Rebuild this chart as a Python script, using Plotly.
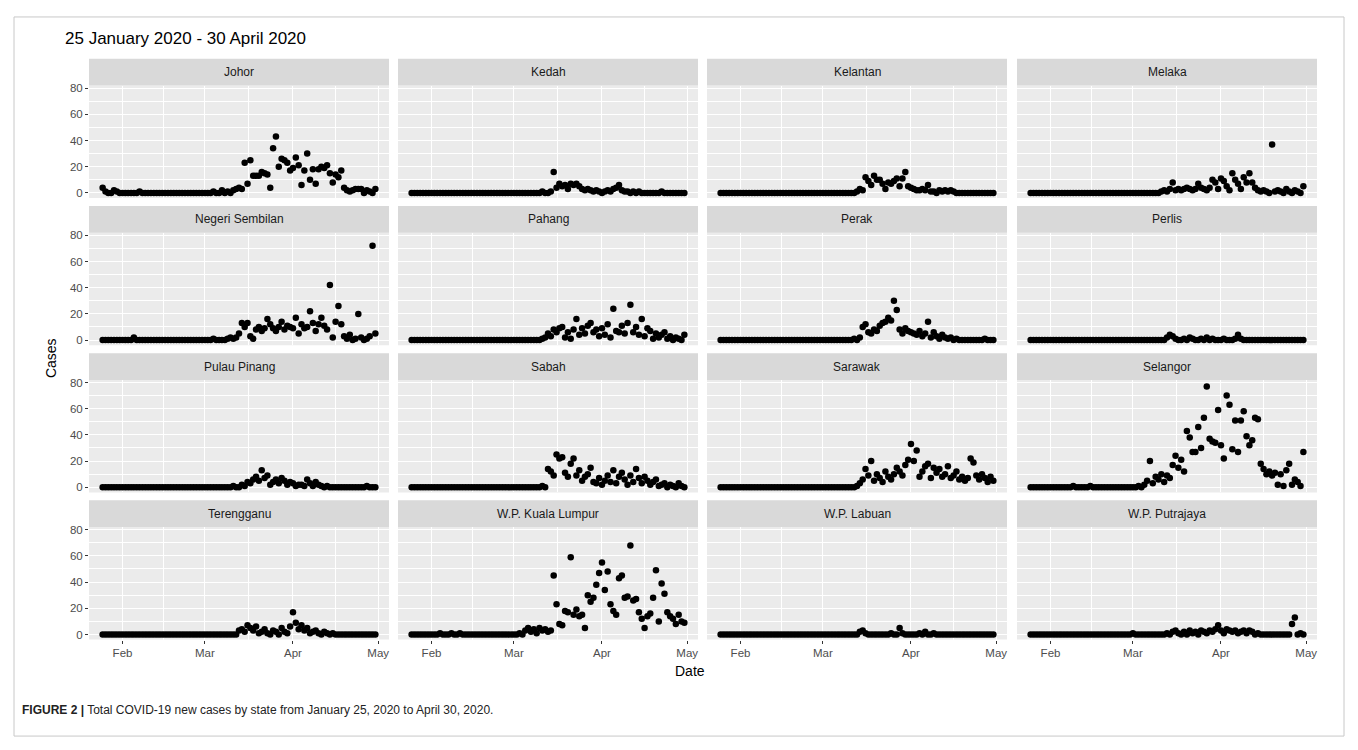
import pandas as pd
import plotly.graph_objects as go

# ---------------- data (daily new cases, 25 Jan 2020 - 30 Apr 2020) ----------------
dates = pd.date_range("2020-01-25", "2020-04-30", freq="D")

states = ["Johor", "Kedah", "Kelantan", "Melaka",
          "Negeri Sembilan", "Pahang", "Perak", "Perlis",
          "Pulau Pinang", "Sabah", "Sarawak", "Selangor",
          "Terengganu", "W.P. Kuala Lumpur", "W.P. Labuan", "W.P. Putrajaya"]

johor = ([4, 1, 0, 0, 2, 1, 0] +
         [0, 0, 0, 0, 0, 0, 1, 0, 0, 0, 0, 0, 0, 0, 0, 0, 0, 0, 0, 0, 0, 0, 0, 0, 0, 0, 0, 0, 0] +
         [0, 0, 0, 1, 0, 0, 2, 0, 1, 0, 2, 3, 4, 3, 23, 7, 25, 13, 13, 13, 16, 15, 14, 4, 34, 43, 20, 26, 25, 23, 17] +
         [19, 27, 21, 6, 17, 30, 10, 18, 7, 18, 20, 19, 21, 15, 8, 14, 12, 17, 4, 2, 1, 2, 3, 3, 3, 0, 2, 1, 0, 3])
kedah = ([0, 0, 0, 0, 0, 0, 0] +
         [0] * 29 +
         [0, 0, 0, 0, 0, 0, 0, 0, 0, 0, 1, 0, 0, 1, 16, 4, 7, 5, 6, 3, 7, 6, 7, 5, 3, 2, 3, 2, 1, 2, 1] +
         [0, 1, 2, 1, 3, 4, 6, 2, 1, 1, 0, 1, 0, 1, 0, 0, 0, 0, 0, 0, 0, 1, 0, 0, 0, 0, 0, 0, 0, 0])
kelantan = ([0, 0, 0, 0, 0, 0, 0] +
            [0] * 29 +
            [0, 0, 0, 0, 0, 0, 0, 0, 0, 0, 0, 0, 1, 3, 2, 12, 9, 6, 13, 10, 10, 7, 3, 8, 7, 9, 11, 5, 11, 16, 5] +
            [4, 3, 2, 2, 3, 2, 6, 1, 1, 0, 2, 1, 2, 1, 2, 1, 0, 0, 0, 0, 0, 0, 0, 0, 0, 0, 0, 0, 0, 0])
melaka = ([0, 0, 0, 0, 0, 0, 0] +
          [0] * 29 +
          [0, 0, 0, 0, 0, 0, 0, 0, 0, 0, 1, 2, 1, 3, 8, 2, 3, 2, 3, 4, 3, 2, 3, 7, 4, 3, 2, 4, 10, 8, 3] +
          [11, 9, 5, 2, 15, 10, 7, 3, 12, 8, 15, 8, 4, 2, 1, 2, 1, 0, 37, 1, 2, 1, 0, 3, 1, 0, 2, 1, 0, 5])
negeri_sembilan = ([0, 0, 0, 0, 0, 0, 0] +
                   [0, 0, 0, 0, 2, 0, 0, 0, 0, 0, 0, 0, 0, 0, 0, 0, 0, 0, 0, 0, 0, 0, 0, 0, 0, 0, 0, 0, 0] +
                   [0, 0, 0, 1, 0, 0, 0, 0, 1, 2, 1, 2, 5, 13, 10, 13, 3, 1, 8, 10, 7, 9, 16, 12, 9, 7, 10, 14, 8, 11, 10] +
                   [9, 17, 5, 12, 9, 10, 22, 13, 7, 12, 17, 11, 8, 42, 2, 14, 26, 12, 3, 1, 4, 0, 1, 20, 2, 0, 1, 3, 72, 5])
pahang = ([0, 0, 0, 0, 0, 0, 0] +
          [0] * 29 +
          [0, 0, 0, 0, 0, 0, 0, 0, 0, 0, 1, 2, 5, 3, 8, 6, 9, 10, 2, 6, 1, 8, 16, 4, 9, 5, 11, 13, 6, 8, 3] +
          [9, 4, 12, 2, 24, 7, 6, 11, 5, 13, 27, 6, 10, 4, 16, 3, 9, 7, 1, 5, 2, 4, 6, 1, 3, 0, 2, 1, 0, 4])
perak = ([0, 0, 0, 0, 0, 0, 0] +
         [0] * 29 +
         [0, 0, 0, 0, 0, 0, 0, 0, 0, 0, 0, 1, 0, 2, 10, 12, 6, 5, 8, 7, 11, 13, 14, 17, 15, 30, 23, 8, 5, 9, 7] +
         [6, 5, 4, 7, 3, 5, 14, 2, 6, 3, 1, 4, 2, 1, 2, 0, 1, 0, 0, 0, 0, 0, 0, 0, 0, 0, 1, 0, 0, 0])
perlis = ([0, 0, 0, 0, 0, 0, 0] +
          [0] * 29 +
          [0, 0, 0, 0, 0, 0, 0, 0, 0, 0, 0, 0, 2, 4, 3, 1, 0, 0, 1, 0, 2, 1, 0, 0, 1, 0, 2, 0, 1, 0, 0] +
          [0, 1, 0, 0, 0, 1, 4, 1, 0, 0, 0, 0, 0, 0, 0, 0, 0, 0, 0, 0, 0, 0, 0, 0, 0, 0, 0, 0, 0, 0])
pulau_pinang = ([0, 0, 0, 0, 0, 0, 0] +
                [0] * 29 +
                [0, 0, 0, 0, 0, 0, 0, 0, 0, 0, 1, 0, 0, 2, 1, 4, 3, 6, 8, 5, 13, 7, 9, 2, 4, 6, 3, 7, 5, 2, 4] +
                [3, 1, 2, 2, 1, 6, 3, 1, 4, 2, 1, 0, 1, 0, 0, 0, 0, 0, 0, 0, 0, 0, 0, 0, 0, 0, 1, 0, 0, 0])
sabah = ([0, 0, 0, 0, 0, 0, 0] +
         [0] * 29 +
         [0, 0, 0, 0, 0, 0, 0, 0, 0, 0, 1, 0, 14, 12, 9, 25, 22, 23, 11, 8, 18, 22, 9, 13, 5, 8, 10, 15, 4, 3, 7] +
         [2, 5, 9, 4, 13, 3, 8, 11, 6, 2, 9, 4, 14, 7, 3, 8, 5, 2, 4, 6, 1, 2, 3, 0, 2, 1, 0, 3, 1, 0])
sarawak = ([0, 0, 0, 0, 0, 0, 0] +
           [0] * 29 +
           [0, 0, 0, 0, 0, 0, 0, 0, 0, 0, 0, 0, 1, 3, 6, 14, 9, 20, 5, 10, 7, 4, 12, 8, 6, 10, 15, 12, 9, 17, 21] +
           [33, 20, 28, 8, 12, 16, 18, 7, 15, 11, 14, 8, 10, 16, 7, 9, 12, 6, 8, 5, 7, 22, 19, 9, 6, 10, 7, 4, 8, 5])
selangor = ([0, 0, 0, 0, 0, 0, 0] +
            [0, 0, 0, 0, 0, 0, 0, 0, 1, 0, 0, 0, 0, 0, 1, 0, 0, 0, 0, 0, 0, 0, 0, 0, 0, 0, 0, 0, 0] +
            [0, 0, 1, 0, 2, 5, 20, 3, 8, 6, 10, 4, 9, 7, 17, 24, 15, 21, 12, 43, 38, 27, 27, 46, 30, 53, 77, 37, 35, 34, 59] +
            [32, 22, 70, 63, 29, 51, 27, 51, 58, 39, 32, 36, 53, 52, 18, 14, 10, 12, 9, 11, 2, 10, 1, 13, 18, 2, 6, 4, 1, 27])
terengganu = ([0, 0, 0, 0, 0, 0, 0] +
              [0] * 29 +
              [0, 0, 0, 0, 0, 0, 0, 0, 0, 0, 0, 0, 3, 4, 2, 7, 5, 3, 6, 1, 2, 4, 1, 0, 3, 2, 0, 5, 2, 1, 6] +
              [17, 9, 4, 7, 3, 5, 1, 2, 3, 1, 0, 2, 1, 0, 1, 0, 0, 0, 0, 0, 0, 0, 0, 0, 0, 0, 0, 0, 0, 0])
kuala_lumpur = ([0, 0, 0, 0, 0, 0, 0] +
                [0, 0, 0, 1, 0, 0, 0, 1, 0, 0, 1, 0, 0, 0, 0, 0, 0, 0, 0, 0, 0, 0, 0, 0, 0, 0, 0, 0, 0] +
                [0, 0, 1, 0, 3, 5, 2, 4, 1, 5, 3, 4, 2, 3, 45, 23, 8, 7, 18, 17, 59, 15, 19, 14, 15, 5, 30, 25, 28, 38, 47] +
                [55, 34, 48, 23, 18, 15, 43, 45, 28, 29, 68, 26, 27, 17, 12, 5, 14, 16, 28, 49, 10, 39, 31, 17, 14, 12, 8, 15, 10, 9])
labuan = ([0, 0, 0, 0, 0, 0, 0] +
          [0] * 29 +
          [0, 0, 0, 0, 0, 0, 0, 0, 0, 0, 0, 0, 0, 2, 3, 1, 0, 0, 0, 0, 0, 0, 0, 0, 1, 0, 0, 5, 1, 0, 0] +
          [0, 0, 0, 1, 0, 2, 0, 0, 1, 0, 0, 0, 0, 0, 0, 0, 0, 0, 0, 0, 0, 0, 0, 0, 0, 0, 0, 0, 0, 0])
putrajaya = ([0, 0, 0, 0, 0, 0, 0] +
             [0] * 29 +
             [1, 0, 0, 0, 0, 0, 0, 0, 0, 0, 0, 0, 1, 0, 2, 3, 1, 0, 2, 0, 3, 1, 2, 0, 3, 2, 1, 3, 2, 4, 7] +
             [3, 1, 4, 3, 2, 3, 1, 2, 3, 1, 3, 2, 0, 1, 0, 0, 0, 0, 0, 0, 0, 0, 0, 0, 0, 8, 13, 0, 1, 0])

series = [johor, kedah, kelantan, melaka,
          negeri_sembilan, pahang, perak, perlis,
          pulau_pinang, sabah, sarawak, selangor,
          terengganu, kuala_lumpur, labuan, putrajaya]

major_x = ["2020-02-01", "2020-03-01", "2020-04-01", "2020-05-01"]
major_x_text = ["Feb", "Mar", "Apr", "May"]
minor_x = ["2020-02-15 12:00", "2020-03-16 12:00", "2020-04-16"]
major_y = [0, 20, 40, 60, 80]
minor_y = [10, 30, 50, 70]

# ---------------- layout geometry (page pixels) ----------------
# the page body has an 8 px margin, so the figure starts at page pixel 8
OFF = 8
W, H = 1350, 742
col_left = [89, 398, 707, 1017]
col_w = 300
strip_top = [56, 204, 352, 500]
strip_h = 27
panel_h = 113

FONT = "Liberation Sans, Arial, Helvetica, sans-serif"


def px(x):
    return (x - OFF) / W


def py(y):
    return 1 - (y - OFF) / H


fig = go.Figure()
layout = {}
shapes = []
annotations = []

x_range = ["2020-01-20 04:48", "2020-05-04 19:12"]
y_range = [-3.9, 81.9]

for i, (name, vals) in enumerate(zip(states, series)):
    r, c = divmod(i, 4)
    n = i + 1
    xa = "x" if n == 1 else f"x{n}"
    ya = "y" if n == 1 else f"y{n}"
    x0 = col_left[c]
    x1 = x0 + col_w
    ptop = strip_top[r] + strip_h
    pbot = ptop + panel_h

    fig.add_trace(go.Scatter(
        x=dates, y=vals, mode="markers", xaxis=xa, yaxis=ya,
        marker=dict(color="black", size=6.5, line=dict(width=0)),
        showlegend=False, hoverinfo="x+y"))

    bottom = (r == 3)
    left = (c == 0)
    layout["xaxis" if n == 1 else f"xaxis{n}"] = dict(
        domain=[px(x0), px(x1)], anchor=ya, type="date", range=x_range,
        tickvals=major_x, ticktext=major_x_text,
        showticklabels=bottom, ticks="outside" if bottom else "",
        ticklen=3, tickwidth=1, tickcolor="#333333",
        tickfont=dict(family=FONT, size=11.5, color="#4D4D4D"),
        showgrid=True, gridcolor="white", gridwidth=1.2,
        minor=dict(tickvals=minor_x, showgrid=True, gridcolor="white",
                   gridwidth=0.6, ticks=""),
        zeroline=False, showline=False, fixedrange=True)
    layout["yaxis" if n == 1 else f"yaxis{n}"] = dict(
        domain=[py(pbot), py(ptop)], anchor=xa, range=y_range,
        tickvals=major_y,
        showticklabels=left, ticks="outside" if left else "",
        ticklen=3, tickwidth=1, tickcolor="#333333",
        tickfont=dict(family=FONT, size=11.5, color="#4D4D4D"),
        showgrid=True, gridcolor="white", gridwidth=1.2,
        minor=dict(tickvals=minor_y, showgrid=True, gridcolor="white",
                   gridwidth=0.6, ticks=""),
        zeroline=False, showline=False, fixedrange=True)

    # panel background
    shapes.append(dict(type="rect", xref="paper", yref="paper", layer="below",
                       x0=px(x0), x1=px(x1), y0=py(pbot), y1=py(ptop),
                       fillcolor="#EBEBEB", line=dict(width=0)))
    # strip
    shapes.append(dict(type="rect", xref="paper", yref="paper", layer="below",
                       x0=px(x0), x1=px(x1), y0=py(ptop), y1=py(strip_top[r]),
                       fillcolor="#D9D9D9", line=dict(width=0)))
    annotations.append(dict(text=name, xref="paper", yref="paper",
                            x=px((x0 + x1) / 2), y=py(strip_top[r] + strip_h / 2),
                            xanchor="center", yanchor="middle", showarrow=False,
                            font=dict(family=FONT, size=12, color="#1A1A1A")))

# outer frame of the figure
shapes.append(dict(type="rect", xref="paper", yref="paper", layer="below",
                   x0=px(14), x1=px(1344), y0=py(737), y1=py(14),
                   fillcolor="rgba(0,0,0,0)", line=dict(color="#C8C8C8", width=1)))

# title, axis titles and caption
annotations.append(dict(text="25 January 2020 - 30 April 2020", xref="paper", yref="paper",
                        x=px(63), y=py(36), xanchor="left", yanchor="middle", showarrow=False,
                        font=dict(family=FONT, size=17, color="black")))
annotations.append(dict(text="Cases", xref="paper", yref="paper", textangle=-90,
                        x=px(51), y=py(357), xanchor="center", yanchor="middle", showarrow=False,
                        font=dict(family=FONT, size=14, color="black")))
annotations.append(dict(text="Date", xref="paper", yref="paper",
                        x=px(690), y=py(672), xanchor="center", yanchor="middle", showarrow=False,
                        font=dict(family=FONT, size=14, color="black")))
annotations.append(dict(text="<b>FIGURE 2 |</b> Total COVID-19 new cases by state from January 25, 2020 to April 30, 2020.",
                        xref="paper", yref="paper",
                        x=px(20), y=py(711), xanchor="left", yanchor="middle", showarrow=False,
                        font=dict(family=FONT, size=12, color="#222222")))

fig.update_layout(
    width=W, height=H, margin=dict(l=0, r=0, t=0, b=0),
    paper_bgcolor="white", plot_bgcolor="rgba(0,0,0,0)",
    shapes=shapes, annotations=annotations, showlegend=False,
    **layout)

fig.write_html("out.html")
